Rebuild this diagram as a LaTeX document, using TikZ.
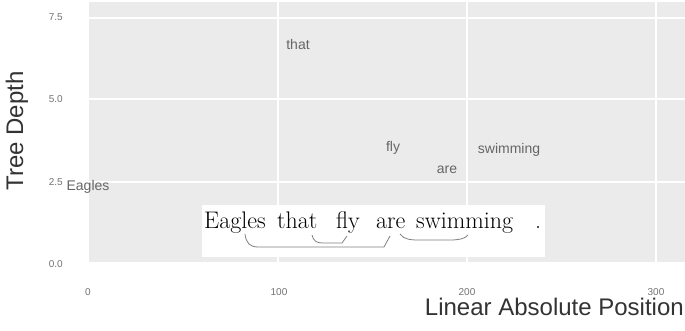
\documentclass[tikz,border=0pt]{standalone}
\usepackage{fontspec}
\newfontfamily\plotfont{Liberation Sans}
\begin{document}
\begin{tikzpicture}[x=1pt,y=-1pt,
  tick/.style={font=\plotfont\fontsize{10}{10}\selectfont, text=black!55, inner sep=0},
  word/.style={font=\plotfont\fontsize{14}{14}\selectfont, text=black!60, inner sep=0},
  sent/.style={font=\fontsize{24}{24}\selectfont, text=black, inner sep=0, anchor=base west},
  axtitle/.style={font=\plotfont\fontsize{24}{24}\selectfont, text=black!80, inner sep=0},
  gridmajor/.style={white, line width=1.6pt},
  arcline/.style={black!50, line width=0.8pt}]
\useasboundingbox (0,0) rectangle (685,331);
\fill[white] (0,0) rectangle (685,331);
% panel
\fill[black!8] (89,2) rectangle (685,262);
\foreach \yy in {18,99,182} \draw[gridmajor] (89,\yy) -- (685,\yy);
\foreach \xx in {278,467,656} \draw[gridmajor] (\xx,2) -- (\xx,262);
% tick labels
\node[tick, anchor=east] (y75) at (63,17) {7.5};
\node[tick, anchor=east] (y50) at (63,99) {5.0};
\node[tick, anchor=east] (y25) at (63,182) {2.5};
\node[tick, anchor=east] (y00) at (63,264) {0.0};
\node[tick] (x0) at (88,292) {0};
\node[tick] (x100) at (279,292) {100};
\node[tick] (x200) at (467,292) {200};
\node[tick] (x300) at (656,292) {300};
% word labels
\node[word] (wthat) at (298,44) {that};
\node[word] (wfly) at (393,148) {fly};
\node[word] (ware) at (447,170) {are};
\node[word] (wswim) at (509,150) {swimming};
\node[word] (weagles) at (88,187) {Eagles};
% axis titles
\node[axtitle, rotate=90] (ylab) at (17,131) {Tree Depth};
\node[axtitle, anchor=base east] (xlab) at (684,315) {Linear Absolute Position};
% sentence box
\node[fill=white, minimum width=343pt, minimum height=52pt, inner sep=0] (box) at (373.5,231) {};
\node[sent] (s1) at (204,228) {Eagles};
\node[sent] (s2) at (277,228) {that};
\node[sent] (s3) at (336,228) {fly};
\node[sent] (s4) at (376,228) {are};
\node[sent] (s5) at (416,228) {swimming};
\node[sent] (s6) at (535,228) {.};
% dependency brackets
\coordinate (b1a) at (245,234);
\coordinate (b1b) at (390,236);
\coordinate (b2a) at (312,235);
\coordinate (b2b) at (347,236);
\coordinate (b3a) at (400,234);
\coordinate (b3b) at (468,235);
\draw[arcline] (b1a) .. controls (246,243) and (250,247) .. (258,247) -- (384,247) -- (b1b);
\draw[arcline] (b2a) .. controls (313,240) and (316,243) .. (322,243) -- (342,243) -- (b2b);
\draw[arcline] (b3a) .. controls (404,240) and (412,240) .. (420,240) -- (450,240) .. controls (458,240) and (465,239) .. (b3b);
\end{tikzpicture}
\end{document}
